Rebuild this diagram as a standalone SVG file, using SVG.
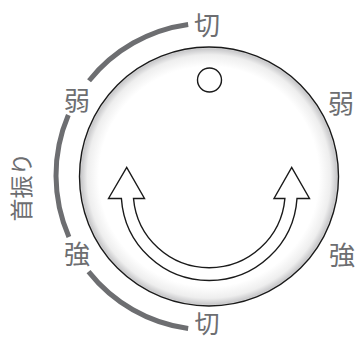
<svg xmlns="http://www.w3.org/2000/svg" width="356" height="341" viewBox="0 0 356 341">
<style>
.lbl{font-family:"Noto Sans CJK JP","Noto Sans CJK SC",sans-serif;font-size:26px;fill:#6d6e71;text-anchor:middle}
.arc{fill:none;stroke:#6d6e71;stroke-width:5}
.ln{stroke:#1a1a1a;stroke-width:1.4}
</style>
<defs>
<radialGradient id="shade" cx="0.5" cy="0.5" r="0.5">
<stop offset="0" stop-color="#ffffff"/>
<stop offset="0.85" stop-color="#ffffff"/>
<stop offset="0.94" stop-color="#eeeeee"/>
<stop offset="0.985" stop-color="#cacacc"/>
<stop offset="1" stop-color="#e2e2e2"/>
</radialGradient>
</defs>
<rect width="356" height="341" fill="#ffffff"/>
<g id="connectors">
<path class="arc" d="M188.17 24.43 A153.5 153.5 0 0 0 89.04 80.73"/>
<path class="arc" d="M68.33 115.05 A153.5 153.5 0 0 0 68.92 236.96"/>
<path class="arc" d="M88.53 271.64 A153.5 153.5 0 0 0 188.17 328.57"/>
</g>
<g id="dial">
<circle class="ln" cx="209" cy="176.5" r="129.5" fill="url(#shade)"/>
<circle class="ln" cx="209.5" cy="80" r="12" fill="#ffffff"/>
<path class="ln" fill="#ffffff" stroke-linejoin="miter" d="M108.5 198.5 L126.7 167.5 L144.5 198.5 L133.5 198.5 A76 76 0 0 0 284.9 198.5 L274 198.5 L291.7 167.5 L309.5 198.5 L297 198.5 A88 88 0 0 1 121.4 198.5 Z"/>
</g>
<g id="labels">
<text class="lbl" x="207" y="35">切</text>
<text class="lbl" x="77" y="110">弱</text>
<text class="lbl" x="77" y="263.5">強</text>
<text class="lbl" style="font-size:25px" x="207" y="333">切</text>
<text class="lbl" x="341" y="113">弱</text>
<text class="lbl" x="342" y="265">強</text>
<text class="lbl" style="font-size:23px" transform="translate(22,187) rotate(-90)" y="8">首振り</text>
</g>
</svg>
